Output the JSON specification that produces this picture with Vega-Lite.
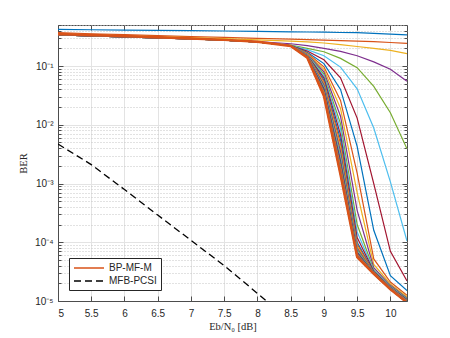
{
  "$schema": "https://vega.github.io/schema/vega-lite/v6.json",
  "width": 349,
  "height": 276,
  "autosize": {"type": "none"},
  "padding": {"left": 58, "top": 25, "right": 43, "bottom": 37},
  "background": "white",
  "config": {
    "view": {"stroke": "#4d4d4d", "strokeWidth": 1},
    "axis": {
      "labelFont": "Liberation Sans",
      "labelFontSize": 10,
      "labelColor": "#262626",
      "labelOverlap": false,
      "titleFont": "Liberation Serif",
      "titleFontSize": 10.5,
      "titleFontWeight": "normal",
      "titleColor": "#262626",
      "domainColor": "#4d4d4d",
      "tickColor": "#4d4d4d",
      "gridColor": "#e3e3e3",
      "gridWidth": 1
    },
    "legend": {
      "orient": "bottom-left",
      "offset": 11,
      "padding": 4,
      "strokeColor": "#262626",
      "fillColor": "white",
      "labelFont": "Liberation Sans",
      "labelFontSize": 10,
      "labelColor": "#262626",
      "symbolType": "M-1,0H5",
      "symbolSize": 100,
      "symbolStrokeWidth": 1.5,
      "rowPadding": 2,
      "labelOffset": 24
    }
  },
  "resolve": {"axis": {"x": "independent", "y": "independent"}},
  "data": {
    "values": [
      {"x": 5, "c01": 0.42, "c02": 0.37, "c03": 0.35, "c04": 0.34, "c05": 0.338, "c06": 0.338, "c07": 0.338, "c08": 0.338, "c09": 0.338, "c10": 0.338, "c11": 0.338, "c12": 0.338, "c13": 0.338, "c14": 0.338, "c15": 0.338, "c16": 0.338, "c17": 0.345, "c18": 0.345, "c19": 0.345, "c20": 0.345, "c21": 0.345, "c22": 0.345, "c23": 0.345, "c24": 0.345, "c25": 0.345, "c26": 0.345, "c27": 0.345, "c28": 0.345, "BP-MF-M": 0.352, "MFB-PCSI": 0.0047},
      {"x": 5.5, "c01": 0.415, "c02": 0.355, "c03": 0.34, "c04": 0.33, "c05": 0.327, "c06": 0.327, "c07": 0.327, "c08": 0.327, "c09": 0.327, "c10": 0.327, "c11": 0.327, "c12": 0.327, "c13": 0.327, "c14": 0.327, "c15": 0.327, "c16": 0.327, "c17": 0.333, "c18": 0.333, "c19": 0.333, "c20": 0.333, "c21": 0.333, "c22": 0.333, "c23": 0.333, "c24": 0.333, "c25": 0.333, "c26": 0.333, "c27": 0.333, "c28": 0.333, "BP-MF-M": 0.338, "MFB-PCSI": 0.0021},
      {"x": 6, "c01": 0.41, "c02": 0.342, "c03": 0.328, "c04": 0.318, "c05": 0.315, "c06": 0.315, "c07": 0.315, "c08": 0.315, "c09": 0.315, "c10": 0.315, "c11": 0.315, "c12": 0.315, "c13": 0.315, "c14": 0.315, "c15": 0.315, "c16": 0.315, "c17": 0.32, "c18": 0.32, "c19": 0.32, "c20": 0.32, "c21": 0.32, "c22": 0.32, "c23": 0.32, "c24": 0.32, "c25": 0.32, "c26": 0.32, "c27": 0.32, "c28": 0.32, "BP-MF-M": 0.324, "MFB-PCSI": 0.00079},
      {"x": 6.5, "c01": 0.405, "c02": 0.33, "c03": 0.316, "c04": 0.305, "c05": 0.303, "c06": 0.303, "c07": 0.303, "c08": 0.303, "c09": 0.303, "c10": 0.303, "c11": 0.303, "c12": 0.303, "c13": 0.303, "c14": 0.303, "c15": 0.303, "c16": 0.303, "c17": 0.307, "c18": 0.307, "c19": 0.307, "c20": 0.307, "c21": 0.307, "c22": 0.307, "c23": 0.307, "c24": 0.307, "c25": 0.307, "c26": 0.307, "c27": 0.307, "c28": 0.307, "BP-MF-M": 0.31, "MFB-PCSI": 0.00029},
      {"x": 7, "c01": 0.4, "c02": 0.318, "c03": 0.304, "c04": 0.292, "c05": 0.29, "c06": 0.29, "c07": 0.29, "c08": 0.29, "c09": 0.29, "c10": 0.29, "c11": 0.29, "c12": 0.29, "c13": 0.29, "c14": 0.29, "c15": 0.29, "c16": 0.29, "c17": 0.293, "c18": 0.293, "c19": 0.293, "c20": 0.293, "c21": 0.293, "c22": 0.293, "c23": 0.293, "c24": 0.293, "c25": 0.293, "c26": 0.293, "c27": 0.293, "c28": 0.293, "BP-MF-M": 0.295, "MFB-PCSI": 0.000108},
      {"x": 7.5, "c01": 0.395, "c02": 0.307, "c03": 0.292, "c04": 0.278, "c05": 0.275, "c06": 0.275, "c07": 0.275, "c08": 0.275, "c09": 0.275, "c10": 0.275, "c11": 0.275, "c12": 0.275, "c13": 0.275, "c14": 0.275, "c15": 0.275, "c16": 0.275, "c17": 0.277, "c18": 0.277, "c19": 0.277, "c20": 0.277, "c21": 0.277, "c22": 0.277, "c23": 0.277, "c24": 0.277, "c25": 0.277, "c26": 0.277, "c27": 0.277, "c28": 0.277, "BP-MF-M": 0.279, "MFB-PCSI": 0.00004},
      {"x": 8, "c01": 0.39, "c02": 0.297, "c03": 0.28, "c04": 0.262, "c05": 0.257, "c06": 0.257, "c07": 0.257, "c08": 0.257, "c09": 0.257, "c10": 0.257, "c11": 0.257, "c12": 0.257, "c13": 0.257, "c14": 0.257, "c15": 0.257, "c16": 0.257, "c17": 0.258, "c18": 0.258, "c19": 0.258, "c20": 0.258, "c21": 0.258, "c22": 0.258, "c23": 0.258, "c24": 0.258, "c25": 0.258, "c26": 0.258, "c27": 0.258, "c28": 0.258, "BP-MF-M": 0.259, "MFB-PCSI": 0.0000135},
      {"x": 8.5, "c01": 0.383, "c02": 0.287, "c03": 0.266, "c04": 0.24, "c05": 0.228, "c06": 0.222, "c07": 0.222, "c08": 0.222, "c09": 0.222, "c10": 0.222, "c11": 0.222, "c12": 0.222, "c13": 0.222, "c14": 0.222, "c15": 0.222, "c16": 0.222, "c17": 0.222, "c18": 0.222, "c19": 0.222, "c20": 0.222, "c21": 0.222, "c22": 0.222, "c23": 0.222, "c24": 0.222, "c25": 0.222, "c26": 0.222, "c27": 0.222, "c28": 0.222, "BP-MF-M": 0.22, "MFB-PCSI": 0.0000045},
      {"x": 8.75, "c01": 0.38, "c02": 0.282, "c03": 0.258, "c04": 0.222, "c05": 0.2, "c06": 0.19, "c07": 0.18, "c08": 0.172, "c09": 0.166, "c10": 0.162, "c11": 0.159, "c12": 0.156, "c13": 0.154, "c14": 0.152, "c15": 0.15, "c16": 0.149, "c17": 0.148, "c18": 0.147, "c19": 0.146, "c20": 0.145, "c21": 0.144, "c22": 0.143, "c23": 0.142, "c24": 0.141, "c25": 0.141, "c26": 0.14, "c27": 0.14, "c28": 0.14, "BP-MF-M": 0.139, "MFB-PCSI": null},
      {"x": 9, "c01": 0.377, "c02": 0.277, "c03": 0.247, "c04": 0.2, "c05": 0.175, "c06": 0.15, "c07": 0.128, "c08": 0.11, "c09": 0.097, "c10": 0.088, "c11": 0.08, "c12": 0.073, "c13": 0.068, "c14": 0.063, "c15": 0.058, "c16": 0.054, "c17": 0.051, "c18": 0.048, "c19": 0.045, "c20": 0.043, "c21": 0.041, "c22": 0.039, "c23": 0.037, "c24": 0.035, "c25": 0.034, "c26": 0.033, "c27": 0.032, "c28": 0.0315, "BP-MF-M": 0.031, "MFB-PCSI": null},
      {"x": 9.25, "c01": 0.373, "c02": 0.272, "c03": 0.232, "c04": 0.178, "c05": 0.135, "c06": 0.096, "c07": 0.063, "c08": 0.04, "c09": 0.026, "c10": 0.019, "c11": 0.014, "c12": 0.0105, "c13": 0.0085, "c14": 0.0068, "c15": 0.0056, "c16": 0.0047, "c17": 0.004, "c18": 0.0035, "c19": 0.003, "c20": 0.0027, "c21": 0.0024, "c22": 0.0022, "c23": 0.002, "c24": 0.0018, "c25": 0.0017, "c26": 0.0016, "c27": 0.0015, "c28": 0.00145, "BP-MF-M": 0.0014, "MFB-PCSI": null},
      {"x": 9.5, "c01": 0.37, "c02": 0.266, "c03": 0.215, "c04": 0.15, "c05": 0.094, "c06": 0.041, "c07": 0.013, "c08": 0.0043, "c09": 0.0015, "c10": 0.0007, "c11": 0.00035, "c12": 0.0002, "c13": 0.00015, "c14": 0.00012, "c15": 0.0001, "c16": 0.000092, "c17": 0.000085, "c18": 0.00008, "c19": 0.000075, "c20": 0.000071, "c21": 0.000068, "c22": 0.000065, "c23": 0.000063, "c24": 0.000061, "c25": 0.00006, "c26": 0.000058, "c27": 0.000057, "c28": 0.000057, "BP-MF-M": 0.000056, "MFB-PCSI": null},
      {"x": 9.75, "c01": 0.36, "c02": 0.26, "c03": 0.2, "c04": 0.118, "c05": 0.045, "c06": 0.0088, "c07": 0.001, "c08": 0.00016, "c09": 0.000052, "c10": 0.000042, "c11": 0.000037, "c12": 0.000034, "c13": 0.000033, "c14": 0.000032, "c15": 0.000031, "c16": 0.0000305, "c17": 0.00003, "c18": 0.0000298, "c19": 0.0000296, "c20": 0.0000294, "c21": 0.0000293, "c22": 0.0000292, "c23": 0.0000291, "c24": 0.000029, "c25": 0.000029, "c26": 0.000029, "c27": 0.000029, "c28": 0.000029, "BP-MF-M": 0.0000289, "MFB-PCSI": null},
      {"x": 10, "c01": 0.35, "c02": 0.252, "c03": 0.185, "c04": 0.088, "c05": 0.016, "c06": 0.00107, "c07": 0.00007, "c08": 0.000027, "c09": 0.000021, "c10": 0.0000195, "c11": 0.0000185, "c12": 0.0000178, "c13": 0.0000175, "c14": 0.0000172, "c15": 0.000017, "c16": 0.0000168, "c17": 0.0000166, "c18": 0.0000165, "c19": 0.0000164, "c20": 0.0000163, "c21": 0.0000162, "c22": 0.0000161, "c23": 0.000016, "c24": 0.000016, "c25": 0.000016, "c26": 0.0000159, "c27": 0.0000159, "c28": 0.0000158, "BP-MF-M": 0.0000158, "MFB-PCSI": null},
      {"x": 10.25, "c01": 0.34, "c02": 0.243, "c03": 0.163, "c04": 0.055, "c05": 0.0039, "c06": 0.000105, "c07": 0.000022, "c08": 0.000015, "c09": 0.0000125, "c10": 0.0000118, "c11": 0.0000113, "c12": 0.000011, "c13": 0.0000108, "c14": 0.0000106, "c15": 0.0000104, "c16": 0.0000102, "c17": 0.00001, "c18": 0.0000099, "c19": 0.0000098, "c20": 0.0000097, "c21": 0.0000096, "c22": 0.0000096, "c23": 0.0000095, "c24": 0.0000095, "c25": 0.0000095, "c26": 0.0000094, "c27": 0.0000094, "c28": 0.0000094, "BP-MF-M": 0.0000094, "MFB-PCSI": null}
    ]
  },
  "layer": [
    {
      "transform": [
        {"fold": ["c01","c02","c03","c04","c05","c06","c07","c08","c09","c10","c11","c12","c13","c14","c15","c16","c17","c18","c19","c20","c21","c22","c23","c24","c25","c26","c27","c28"], "as": ["series", "ber"]}
      ],
      "mark": {"type": "line", "strokeWidth": 1.2, "clip": true},
      "encoding": {
        "x": {
          "field": "x", "type": "quantitative",
          "scale": {"domain": [5, 10.25], "nice": false, "zero": false},
          "axis": {
            "title": "Eb/N₀ [dB]",
            "values": [5, 5.5, 6, 6.5, 7, 7.5, 8, 8.5, 9, 9.5, 10],
            "format": "~g",
            "tickSize": -5,
            "labelPadding": 12,
            "titlePadding": 3,
            "grid": true
          }
        },
        "y": {
          "field": "ber", "type": "quantitative",
          "scale": {"type": "log", "domain": [0.00001, 0.5], "nice": false},
          "axis": {
            "title": "BER",
            "values": [0.00001,0.00002,0.00003,0.00004,0.00005,0.00006,0.00007,0.00008,0.00009,0.0001,0.0002,0.0003,0.0004,0.0005,0.0006,0.0007,0.0008,0.0009,0.001,0.002,0.003,0.004,0.005,0.006,0.007,0.008,0.009,0.01,0.02,0.03,0.04,0.05,0.06,0.07,0.08,0.09,0.1,0.2,0.3,0.4,0.5],
            "labelExpr": "datum.value == 0.1 ? '10⁻¹' : datum.value == 0.01 ? '10⁻²' : datum.value == 0.001 ? '10⁻³' : datum.value == 0.0001 ? '10⁻⁴' : datum.value == 0.00001 ? '10⁻⁵' : ''",
            "gridDash": {"condition": {"test": "indexof([0.1,0.01,0.001,0.0001,0.00001], datum.value) >= 0", "value": []}, "value": [1, 2]},
            "gridColor": {"condition": {"test": "indexof([0.1,0.01,0.001,0.0001,0.00001], datum.value) >= 0", "value": "#e3e3e3"}, "value": "#c4c4c4"},
            "tickSize": {"condition": {"test": "indexof([0.1,0.01,0.001,0.0001,0.00001], datum.value) >= 0", "value": -5}, "value": -3},
            "labelPadding": 10,
            "titlePadding": 6,
            "grid": true
          }
        },
        "detail": {"field": "series"},
        "stroke": {
          "field": "series", "type": "nominal", "legend": null,
          "scale": {
            "domain": ["c01","c02","c03","c04","c05","c06","c07","c08","c09","c10","c11","c12","c13","c14","c15","c16","c17","c18","c19","c20","c21","c22","c23","c24","c25","c26","c27","c28"],
            "range": ["#0072BD","#D95319","#EDB120","#7E2F8E","#77AC30","#4DBEEE","#A2142F","#0072BD","#D95319","#EDB120","#7E2F8E","#77AC30","#4DBEEE","#A2142F","#0072BD","#D95319","#EDB120","#7E2F8E","#77AC30","#4DBEEE","#A2142F","#0072BD","#D95319","#EDB120","#7E2F8E","#77AC30","#4DBEEE","#A2142F"]
          }
        }
      }
    },
    {
      "transform": [
        {"fold": ["BP-MF-M", "MFB-PCSI"], "as": ["name", "ber"]},
        {"filter": "isValid(datum.ber)"}
      ],
      "mark": {"type": "line", "clip": true, "strokeWidth": 1.3},
      "encoding": {
        "x": {"field": "x", "type": "quantitative", "axis": null},
        "y": {"field": "ber", "type": "quantitative", "axis": null},
        "color": {
          "field": "name", "type": "nominal",
          "scale": {"domain": ["BP-MF-M", "MFB-PCSI"], "range": ["#D95319", "#000000"]},
          "legend": {"title": null}
        },
        "strokeDash": {
          "field": "name", "type": "nominal",
          "scale": {"domain": ["BP-MF-M", "MFB-PCSI"], "range": [[1, 0], [7, 4]]},
          "legend": {"title": null}
        }
      }
    },
    {
      "mark": {"type": "line", "clip": true, "strokeWidth": 2.4, "color": "#D95319"},
      "encoding": {
        "x": {"field": "x", "type": "quantitative", "axis": null},
        "y": {"field": "BP-MF-M", "type": "quantitative", "axis": null}
      }
    },
    {
      "mark": {"type": "line", "opacity": 0},
      "encoding": {
        "x": {
          "field": "x", "type": "quantitative",
          "axis": {"orient": "top", "title": null, "labels": false, "grid": false, "domain": false, "tickSize": -5, "values": [5, 5.5, 6, 6.5, 7, 7.5, 8, 8.5, 9, 9.5, 10]}
        },
        "y": {
          "field": "c01", "type": "quantitative",
          "axis": {
            "orient": "right", "title": null, "labels": false, "grid": false, "domain": false,
            "values": [0.00001,0.00002,0.00003,0.00004,0.00005,0.00006,0.00007,0.00008,0.00009,0.0001,0.0002,0.0003,0.0004,0.0005,0.0006,0.0007,0.0008,0.0009,0.001,0.002,0.003,0.004,0.005,0.006,0.007,0.008,0.009,0.01,0.02,0.03,0.04,0.05,0.06,0.07,0.08,0.09,0.1,0.2,0.3,0.4,0.5],
            "tickSize": {"condition": {"test": "indexof([0.1,0.01,0.001,0.0001,0.00001], datum.value) >= 0", "value": -5}, "value": -3}
          }
        }
      }
    }
  ]
}
